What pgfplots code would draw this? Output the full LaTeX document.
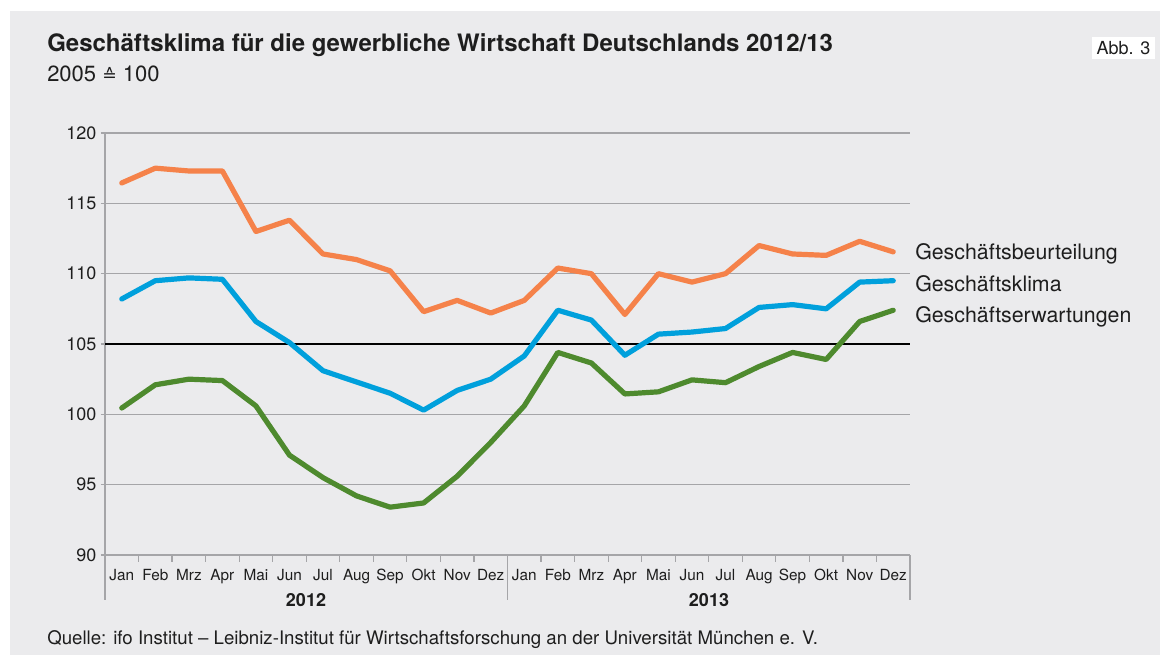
\documentclass[border=0pt]{standalone}
\usepackage{pgfplots}
\pgfplotsset{compat=1.18}
\usepackage{fontspec}
\setmainfont{TeX Gyre Heros}
\newfontfamily\dejavu{DejaVu Sans}
\definecolor{bg}{RGB}{235,235,237}
\definecolor{cor}{RGB}{245,130,74}
\definecolor{cbl}{RGB}{0,160,220}
\definecolor{cgr}{RGB}{78,138,46}
\definecolor{gridc}{RGB}{165,165,168}
\definecolor{txt}{RGB}{30,30,30}
\pgfplotstableread{
x beurt klima erw
0 116.45 108.2 100.45
1 117.5 109.5 102.1
2 117.3 109.7 102.5
3 117.3 109.6 102.4
4 113.0 106.6 100.6
5 113.8 105.1 97.1
6 111.4 103.1 95.5
7 111.0 102.3 94.2
8 110.2 101.5 93.4
9 107.3 100.3 93.7
10 108.1 101.7 95.6
11 107.2 102.5 98.0
12 108.1 104.15 100.6
13 110.4 107.4 104.4
14 110.0 106.7 103.65
15 107.1 104.2 101.45
16 110.0 105.7 101.6
17 109.4 105.85 102.45
18 110.0 106.1 102.25
19 112.0 107.6 103.4
20 111.4 107.8 104.4
21 111.3 107.5 103.9
22 112.3 109.4 106.6
23 111.55 109.5 107.4
}\data
\begin{document}
\begin{tikzpicture}
\fill[white] (0,0) rectangle (873.75pt,-495pt);
\fill[bg] (7.5pt,-8.25pt) rectangle (870pt,-491.25pt);
\fill[white] (819pt,-27.75pt) rectangle (866.25pt,-44.25pt);
\node[anchor=center, text=txt, font=\fontsize{13.5}{15}\selectfont] at (842.6pt,-36pt) {Abb. 3};
\node[anchor=base west, text=txt, font=\fontsize{18}{20}\selectfont\bfseries, inner sep=0pt] at (35.25pt,-39pt) {Geschäftsklima für die gewerbliche Wirtschaft Deutschlands 2012/13};
\node[anchor=base west, text=txt, font=\fontsize{16.5}{18}\selectfont, inner sep=0pt] at (35.25pt,-61.5pt) {2005 {\dejavu\fontsize{13}{15}\selectfont ≙} 100};
\begin{axis}[
  at={(78.75pt,-416.25pt)}, anchor=south west,
  width=603.75pt, height=316.5pt, scale only axis,
  xmin=-0.5, xmax=23.5, ymin=90, ymax=120,
  axis x line*=bottom, axis y line*=left,
  axis line style={gridc, line width=0.9pt},
  ytick={90,95,...,120},
  ymajorgrids, grid style={gridc, line width=0.9pt},
  major tick length=3pt, minor tick length=5pt, tick align=outside,
  y tick style={gridc, line width=0.9pt},
  yticklabel style={font=\fontsize{13.5}{15}\selectfont, text=txt},
  /pgf/number format/assume math mode=true,
  xtick={0,...,23},
  xticklabels={Jan,Feb,Mrz,Apr,Mai,Jun,Jul,Aug,Sep,Okt,Nov,Dez,Jan,Feb,Mrz,Apr,Mai,Jun,Jul,Aug,Sep,Okt,Nov,Dez},
  major x tick style={draw=none},
  minor xtick={-0.5,0.5,...,23.5},
  minor x tick style={gridc, line width=0.9pt},
  xticklabel style={font=\fontsize{11.5}{13}\selectfont, text=txt, yshift=-4pt},
  clip=false,
]
\addplot[black, line width=1.1pt] coordinates {(-0.5,105) (23.5,105)};
\addplot[cor, line width=3.9pt, line join=round, line cap=round] table[x=x,y=beurt] {\data};
\addplot[cbl, line width=3.9pt, line join=round, line cap=round] table[x=x,y=klima] {\data};
\addplot[cgr, line width=3.9pt, line join=round, line cap=round] table[x=x,y=erw] {\data};
\end{axis}
\draw[gridc, line width=0.9pt] (78.75pt,-416.25pt) -- (78.75pt,-450pt);
\draw[gridc, line width=0.9pt] (380.625pt,-416.25pt) -- (380.625pt,-450pt);
\draw[gridc, line width=0.9pt] (682.5pt,-416.25pt) -- (682.5pt,-450pt);
\node[anchor=center, text=txt, font=\fontsize{13.5}{15}\selectfont\bfseries] at (229.5pt,-450pt) {2012};
\node[anchor=center, text=txt, font=\fontsize{13.5}{15}\selectfont\bfseries] at (531.75pt,-450pt) {2013};
\node[anchor=west, text=txt, font=\fontsize{16}{18}\selectfont, inner sep=0pt] at (686.25pt,-190.5pt) {Geschäftsbeurteilung};
\node[anchor=west, text=txt, font=\fontsize{16}{18}\selectfont, inner sep=0pt] at (686.25pt,-213pt) {Geschäftsklima};
\node[anchor=west, text=txt, font=\fontsize{16}{18}\selectfont, inner sep=0pt] at (686.25pt,-237.75pt) {Geschäftserwartungen};
\node[anchor=west, text=txt, font=\fontsize{14}{16}\selectfont, inner sep=0pt] at (35.25pt,-480pt) {Quelle: ifo Institut – Leibniz-Institut für Wirtschaftsforschung an der Universität München e. V.};
\end{tikzpicture}
\end{document}
